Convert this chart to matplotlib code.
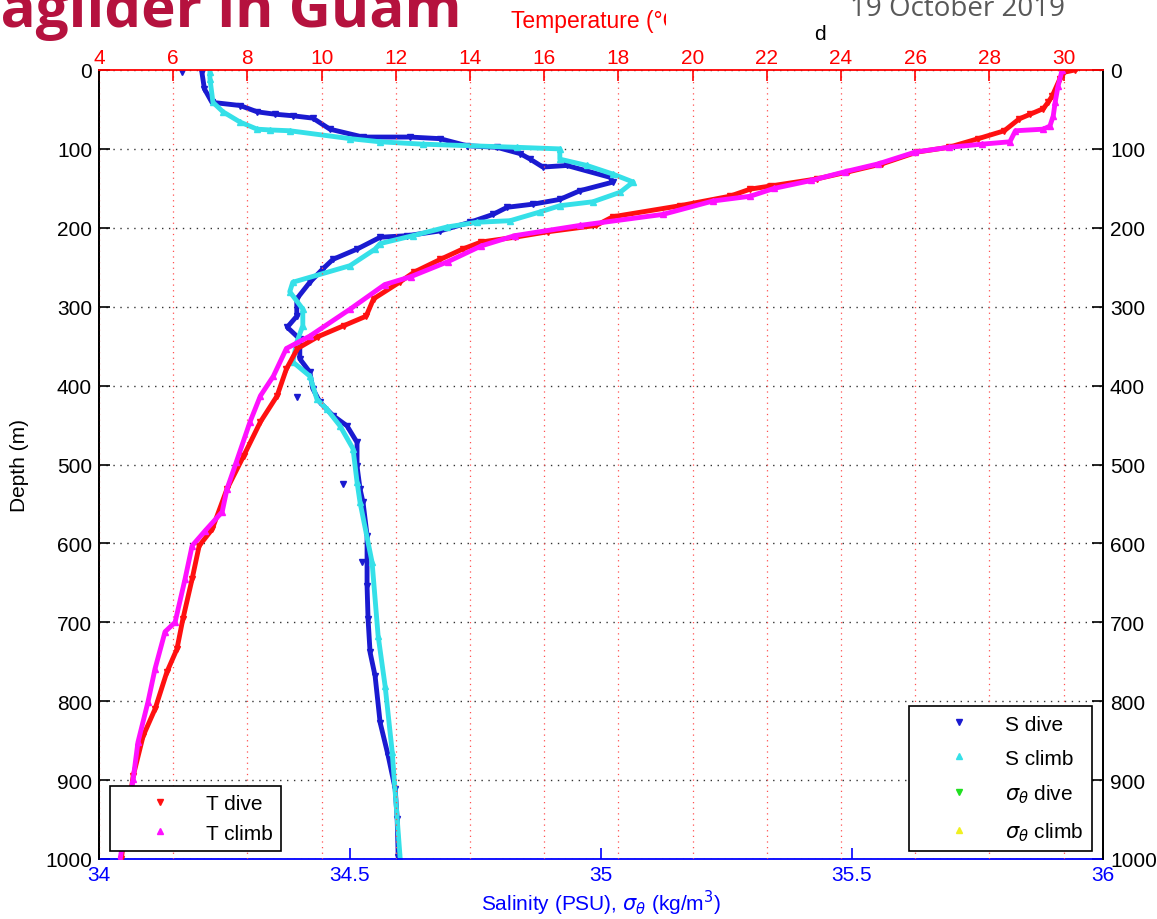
# Seaglider profile: temperature / salinity vs depth
import matplotlib
matplotlib.use('Agg')
import matplotlib.pyplot as plt
from matplotlib.patches import Rectangle

plt.rcParams['font.family'] = ['Liberation Sans', 'DejaVu Sans']
plt.rcParams['mathtext.fontset'] = 'dejavusans'

# Temperature, dive (depth m, degC)
t_dive_depth = [0, 3, 11, 33, 41, 49, 56, 62, 77, 87, 98, 104, 119, 129, 138, 147, 151,
                160, 172, 186, 197, 205, 212, 218, 227, 240, 256, 269, 290, 312, 324, 338,
                353, 379, 413, 446, 489, 531, 582, 603, 645, 696, 734, 763, 810, 844, 895, 1000]
t_dive = [30.3, 30.0, 29.9, 29.69, 29.58, 29.45, 29.1, 28.8, 28.4, 27.7, 26.9, 26.05, 25.1,
          24.2, 23.35, 22.1, 21.55, 21.0, 19.66, 17.85, 17.4, 16.1, 15.2, 14.3, 13.8, 13.2,
          12.5, 12.1, 11.4, 11.2, 10.6, 9.9, 9.35, 9.05, 8.8, 8.35, 7.9, 7.45, 7.05, 6.7,
          6.51, 6.26, 6.1, 5.83, 5.51, 5.19, 4.92, 4.6]

# Temperature, climb
t_climb_depth = [0, 20, 41, 58, 71, 75, 77, 91, 94, 98, 104, 119, 129, 140, 150, 160, 166,
                 183, 197, 210, 223, 243, 262, 272, 303, 337, 353, 388, 413, 446, 497, 531,
                 560, 584, 603, 645, 700, 712, 759, 801, 852, 899, 1000]
t_climb = [29.96, 29.85, 29.77, 29.72, 29.63, 29.45, 28.7, 28.55, 27.8, 26.9, 26.0, 25.0,
           24.1, 23.2, 22.2, 21.55, 20.55, 19.2, 16.96, 15.2, 14.3, 13.4, 12.4, 11.7, 10.77,
           9.69, 9.05, 8.7, 8.35, 8.07, 7.7, 7.45, 7.32, 6.86, 6.51, 6.32, 6.05, 5.78, 5.51,
           5.32, 5.05, 4.92, 4.57]

# Salinity, dive (depth m, PSU)
s_dive_depth = [3, 24, 41, 45, 53, 56, 58, 61, 75, 85, 85, 87, 96, 98, 106, 113, 123, 121,
                136, 142, 153, 164, 170, 174, 183, 193, 204, 210, 212, 227, 240, 252, 269,
                290, 312, 326, 341, 366, 383, 404, 421, 438, 451, 472, 502, 531, 548, 590,
                654, 696, 738, 768, 827, 869, 911, 949, 997]
s_dive = [34.205, 34.21, 34.225, 34.281, 34.315, 34.35, 34.386, 34.426, 34.46, 34.526, 34.62,
          34.679, 34.733, 34.793, 34.839, 34.859, 34.884, 34.932, 35.018, 35.024, 34.958,
          34.918, 34.865, 34.813, 34.785, 34.739, 34.679, 34.614, 34.56, 34.514, 34.466,
          34.446, 34.42, 34.394, 34.394, 34.375, 34.40, 34.40, 34.42, 34.426, 34.44, 34.466,
          34.494, 34.514, 34.514, 34.52, 34.526, 34.534, 34.534, 34.536, 34.54, 34.55, 34.56,
          34.576, 34.59, 34.594, 34.596]
# stray dive samples
s_dive_stray_depth = [2, 415, 525, 624]
s_dive_stray = [34.165, 34.394, 34.486, 34.524]

# Salinity, climb
s_climb_depth = [3, 11, 41, 53, 66, 75, 76, 77, 87, 91, 94, 98, 100, 113, 121, 132, 142, 155,
                 167, 172, 180, 191, 193, 199, 210, 220, 227, 248, 269, 281, 303, 324, 345,
                 370, 388, 417, 430, 451, 480, 522, 548, 624, 717, 781, 864, 1000]
s_climb = [34.221, 34.221, 34.227, 34.247, 34.281, 34.315, 34.341, 34.38, 34.5, 34.56, 34.645,
           34.833, 34.918, 34.918, 34.972, 35.024, 35.064, 35.038, 34.984, 34.918, 34.878,
           34.819, 34.753, 34.693, 34.625, 34.56, 34.55, 34.5, 34.386, 34.38, 34.406, 34.406,
           34.394, 34.386, 34.42, 34.434, 34.454, 34.48, 34.506, 34.514, 34.52, 34.544,
           34.556, 34.57, 34.584, 34.6]

# sigma-theta (off scale here, only in legend)
sig_dive_depth, sig_dive = [], []
sig_climb_depth, sig_climb = [], []

depth_ticks = list(range(0, 1001, 100))
temp_ticks = list(range(4, 31, 2))
sal_ticks = [34, 34.5, 35, 35.5, 36]
sal_labels = ['34', '34.5', '35', '35.5', '36']

# Figure
fig = plt.figure(figsize=(11.57, 9.2), dpi=100)
ax = fig.add_axes([99/1157, 1-860/920, 1004/1157, 789/920])
ax2 = ax.twiny()

ms = 4.5
lw = 3.5
c_sd, c_sc, c_td, c_tc = '#1a1ad0', '#35e0e8', '#ff1010', '#ff10ff'

# salinity on bottom axis
ax.plot(s_dive, s_dive_depth, '-', color=c_sd, lw=lw)
h_sd, = ax.plot(s_dive, s_dive_depth, 'v', color=c_sd, ms=ms, ls='none', label='S dive')
ax.plot(s_dive_stray, s_dive_stray_depth, 'v', color=c_sd, ms=ms, ls='none')
ax.plot(s_climb, s_climb_depth, '-', color=c_sc, lw=lw)
h_sc, = ax.plot(s_climb, s_climb_depth, '^', color=c_sc, ms=ms, ls='none', label='S climb')
h_gd, = ax.plot(sig_dive, sig_dive_depth, 'v', color='#20e020', ms=ms, ls='none',
                label=r'$\sigma_\theta$ dive')
h_gc, = ax.plot(sig_climb, sig_climb_depth, '^', color='#f0f020', ms=ms, ls='none',
                label=r'$\sigma_\theta$ climb')

# temperature on top axis
ax2.plot(t_dive, t_dive_depth, '-', color=c_td, lw=lw)
h_td, = ax2.plot(t_dive, t_dive_depth, 'v', color=c_td, ms=ms, ls='none', label='T dive')
ax2.plot(t_climb, t_climb_depth, '-', color=c_tc, lw=lw)
h_tc, = ax2.plot(t_climb, t_climb_depth, '^', color=c_tc, ms=ms, ls='none', label='T climb')

# Axes limits / ticks
ax.set_xlim(34, 36)
ax.set_ylim(1000, 0)
ax2.set_xlim(4, 31.06)
ax.set_yticks(depth_ticks)
ax.set_xticks(sal_ticks)
ax.set_xticklabels(sal_labels)
ax2.set_xticks(temp_ticks)

ax.tick_params(axis='y', direction='in', left=True, right=True, labelleft=True,
               labelright=True, length=8, width=1.2, labelsize=15, pad=5)
ax.tick_params(axis='x', direction='in', colors='blue', length=8, width=1.2,
               labelsize=15, pad=4)
ax2.tick_params(axis='x', direction='in', colors='red', length=8, width=1.2,
                labelsize=15, pad=2)

# spines
ax.spines['top'].set_visible(False)
ax.spines['bottom'].set_color('blue')
ax2.spines['bottom'].set_visible(False)
ax2.spines['top'].set_color('red')
for a in (ax, ax2):
    for s in a.spines.values():
        s.set_linewidth(1.3)

# grids
ax.grid(axis='y', color='#333333', lw=1, ls=(0, (1, 4)))
ax2.grid(axis='x', color='#ff5050', lw=0.9, ls=(0, (1, 3.5)))

ax.set_xlabel(r'Salinity (PSU), $\sigma_\theta$ (kg/m$^3$)', color='blue', fontsize=15, labelpad=3)
ax.set_ylabel('Depth (m)', fontsize=15, labelpad=12)

# Legends
leg_kw = dict(fontsize=15, frameon=True, fancybox=False, framealpha=1, edgecolor='black',
              handlelength=4, handletextpad=0.2, borderpad=0.4, numpoints=1, borderaxespad=0)
leg1 = ax2.legend(handles=[h_td, h_tc], loc='lower left', bbox_to_anchor=(0.011, 0.01),
                  labelspacing=0.5, **leg_kw)
leg1.get_frame().set_linewidth(1.2)
ax2.add_artist(leg1)
leg2 = ax2.legend(handles=[h_sd, h_sc, h_gd, h_gc], loc='lower right',
                  bbox_to_anchor=(0.989, 0.01), labelspacing=0.72, **leg_kw)
leg2.get_frame().set_linewidth(1.2)

# Slide remnants on top
fig.text(462/1157, 1-27/920, 'Seaglider in Guam', ha='right', va='baseline', fontsize=42,
         weight='bold', color='#B5123E', family=['Open Sans', 'DejaVu Sans'])
fig.text(957/1157, 1-16/920, '19 October 2019', ha='center', va='baseline', fontsize=20,
         color='#595959', family=['Open Sans', 'DejaVu Sans'])
fig.text(511/1157, 1-28/920, 'Temperature (°C)', ha='left', va='baseline', fontsize=16.5,
         color='red')
fig.patches.append(Rectangle((666/1157, 1-42/920), 170/1157, 42/920, transform=fig.transFigure,
                             facecolor='white', edgecolor='none', zorder=10))
fig.text(820/1157, 1-40/920, 'd', ha='center', va='baseline', fontsize=15, color='black',
         zorder=11)

plt.savefig('out.png', dpi=100)
